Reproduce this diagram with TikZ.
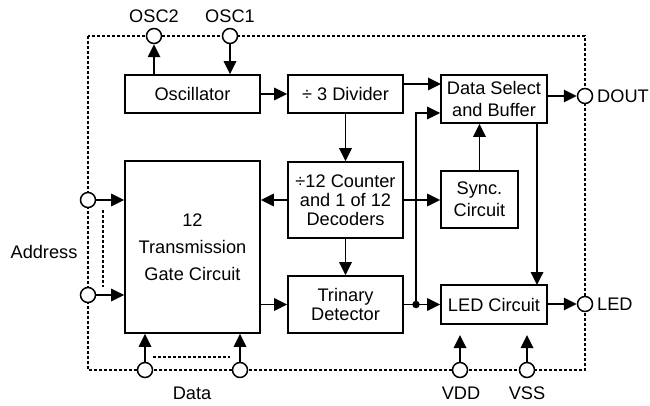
\documentclass[tikz,border=0pt]{standalone}
\usepackage{fontspec}
\setmainfont{Liberation Sans}
\usetikzlibrary{arrows.meta}
\begin{document}
\begin{tikzpicture}[x=1pt,y=-1pt,
  blk/.style={draw, line width=1.8pt, inner sep=0pt, align=center, font=\fontsize{18.2}{19}\selectfont},
  pinc/.style={draw, circle, fill=white, line width=1.5pt, minimum size=15pt, inner sep=0pt},
  arr/.style={line width=1.8pt, -{Triangle[length=13pt,width=12.5pt]}},
  ln/.style={line width=1.8pt},
  dsh/.style={line width=1.3pt, dash pattern=on 3pt off 2pt},
  lbl/.style={inner sep=0pt, font=\fontsize{18.2}{19}\selectfont}
]
\useasboundingbox (0,0) rectangle (650,406);
% border
\draw[dsh] (88,36) rectangle (585,370);
% blocks
\node[blk, minimum width=135pt, minimum height=38pt] (osc) at (192.5,94) {Oscillator};
\node[blk, minimum width=115pt, minimum height=38pt] (div) at (345.5,94) {÷ 3 Divider};
\node[blk, minimum width=106pt, minimum height=48pt, font=\fontsize{18.2}{22}\selectfont] (dsb) at (494,99) {Data Select\\and Buffer};
\node[blk, minimum width=115pt, minimum height=76pt] (cnt) at (345.5,200) {÷12 Counter\\and 1 of 12\\Decoders};
\node[blk, minimum width=77pt, minimum height=57pt, font=\fontsize{18.2}{22}\selectfont] (sync) at (479.5,199.5) {Sync.\\Circuit};
\node[blk, minimum width=135pt, minimum height=172pt, font=\fontsize{18.2}{27}\selectfont] (tg) at (192.5,247) {12\\Transmission\\Gate Circuit};
\node[blk, minimum width=115pt, minimum height=57pt] (tri) at (345.5,304.5) {Trinary\\Detector};
\node[blk, minimum width=106pt, minimum height=39pt] (led) at (494,304.5) {LED Circuit};
% pins
\node[pinc] (osc2) at (154,36) {};
\node[pinc] (osc1) at (230,36) {};
\node[pinc] (dout) at (585,96) {};
\node[pinc] (ledo) at (585,304) {};
\node[pinc] (vdd) at (460,370) {};
\node[pinc] (vss) at (527,370) {};
\node[pinc] (d1) at (145,370) {};
\node[pinc] (d2) at (240,370) {};
\node[pinc] (a1) at (88,200) {};
\node[pinc] (a2) at (88,295) {};
% labels
\node[lbl] (losc2) at (154,16) {OSC2};
\node[lbl] (losc1) at (230,16) {OSC1};
\node[lbl, anchor=west] (ldout) at (597,96) {DOUT};
\node[lbl, anchor=west] (lled) at (597,304) {LED};
\node[lbl] (lvdd) at (461,393) {VDD};
\node[lbl] (lvss) at (527,393) {VSS};
\node[lbl] (ldata) at (192,393) {Data};
\node[lbl] (laddr) at (44,252) {Address};
% helper coordinates
\node[circle, fill, inner sep=0pt, minimum size=7.5pt] (dot) at (416,304.5) {};
\coordinate (bend) at (416,113);
\coordinate (d84a) at (403,84);
\coordinate (d84b) at (441,84);
\coordinate (dl1) at (537,123);
\coordinate (dl2) at (537,285);
\coordinate (vddt) at (460,335);
\coordinate (vsst) at (527,335);
% connectors
\draw[arr] (osc.north -| osc2) -- (osc2.south);
\draw[arr] (osc1.south) -- (osc.north -| osc1);
\draw[arr] (osc.east) -- (div.west);
\draw[arr] (d84a) -- (d84b);
\draw[arr] (div.south) -- (cnt.north);
\draw[arr] (cnt.south) -- (tri.north);
\draw[arr] (cnt.west) -- (cnt.west -| tg.east);
\draw[arr] (cnt.east) -- (cnt.east -| sync.west);
\draw[arr] (sync.north) -- (sync.north |- dsb.south);
\draw[arr] (dl1) -- (dl2);
\draw[arr] (dsb.east |- dout) -- (dout.west);
\draw[arr] (led.east |- ledo) -- (ledo.west);
\draw[arr] (tg.east |- tri.west) -- (tri.west);
\draw[ln] (tri.east) -- (dot.center);
\draw[arr] (dot.center) -- (led.west);
\draw[arr] (dot.center) -- (bend) -- (bend -| dsb.west);
\draw[arr] (a1.east) -- (a1 -| tg.west);
\draw[arr] (a2.east) -- (a2 -| tg.west);
\draw[arr] (d1.north) -- (d1 |- tg.south);
\draw[arr] (d2.north) -- (d2 |- tg.south);
\draw[arr] (vdd.north) -- (vddt);
\draw[arr] (vss.north) -- (vsst);
% dashed bus indications
\draw[dsh] (103,210) -- (103,287);
\draw[dsh] (153,357) -- (230,357);
\end{tikzpicture}
\end{document}
